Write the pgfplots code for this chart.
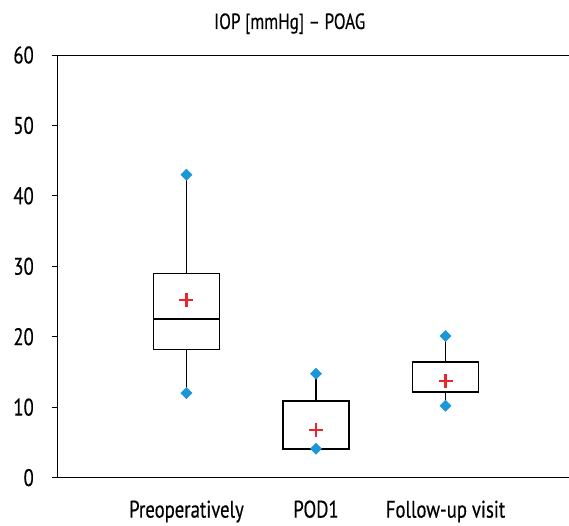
\documentclass[border=0pt]{standalone}
\usepackage{fontspec}
\setmainfont[FakeStretch=0.78, FakeBold=0.4]{PT Sans}
\usepackage{pgfplots}
\pgfplotsset{compat=1.18}
\usepgfplotslibrary{statistics}
\definecolor{diablue}{HTML}{1B96D8}
\definecolor{meanred}{HTML}{E8262B}
\begin{document}
\begin{tikzpicture}
\begin{axis}[
  scale only axis,
  width=512pt, height=423pt,
  xmin=0, xmax=3.95, ymin=0, ymax=60,
  separate axis lines,
  axis x line*=box,
  axis y line*=left,
  axis line style={line width=0.9pt, -},
  ytick={0,10,...,60},
  xtick={1,2,3},
  xticklabels={Preoperatively,POD1,Follow-up visit},
  major x tick style={draw=none},
  major y tick style={line width=0.8pt, black},
  tick align=outside,
  major tick length=5pt,
  /pgf/number format/assume math mode=true,
  yticklabel style={font=\fontsize{24}{28}\selectfont, anchor=east, inner sep=0pt, xshift=-18pt},
  xticklabel style={font=\fontsize{24}{28}\selectfont, anchor=base, yshift=-35pt},
  title={IOP [mmHg] – POAG},
  title style={font=\fontsize{22}{26}\selectfont, at={(0.455,1)}, anchor=base, yshift=20pt},
  clip=false,
  boxplot/draw direction=y,
  boxplot/box extend=0.51,
  boxplot/whisker extend=0.07,
  boxplot/every box/.style={draw=black, line width=1.6pt},
  boxplot/every whisker/.style={draw=black, line width=1.5pt},
  boxplot/every median/.style={draw=black, line width=1.7pt},
]
\coordinate (ll) at (rel axis cs:0,0);
\coordinate (ur) at (rel axis cs:1,1);
\addplot+[boxplot prepared={lower whisker=12, lower quartile=18.2, median=22.5, upper quartile=29, upper whisker=43, draw position=1}, black, solid, mark=none] coordinates {};
\addplot+[boxplot prepared={lower whisker=4.1, lower quartile=4.1, median=4.1, upper quartile=10.9, upper whisker=14.75, draw position=2}, black, solid, mark=none] coordinates {};
\addplot+[boxplot prepared={lower whisker=10.2, lower quartile=12.2, median=12.2, upper quartile=16.45, upper whisker=20.1, draw position=3}, black, solid, mark=none] coordinates {};
\addplot[only marks, mark=square*, mark size=4pt, color=diablue, mark options={rotate=45}] coordinates {(1,12) (1,43) (2,4.1) (2,14.75) (3,10.2) (3,20.1)};
\addplot[only marks, mark=+, mark size=7pt, color=meanred, mark options={line width=2.2pt}] coordinates {(1,25.2) (2,6.8) (3,13.75)};
\end{axis}
\path (ll) ++(-57pt,-39pt) coordinate (a);
\path (ur) ++(0pt,55pt) coordinate (b);
\path (a) rectangle (b);
\end{tikzpicture}
\end{document}
